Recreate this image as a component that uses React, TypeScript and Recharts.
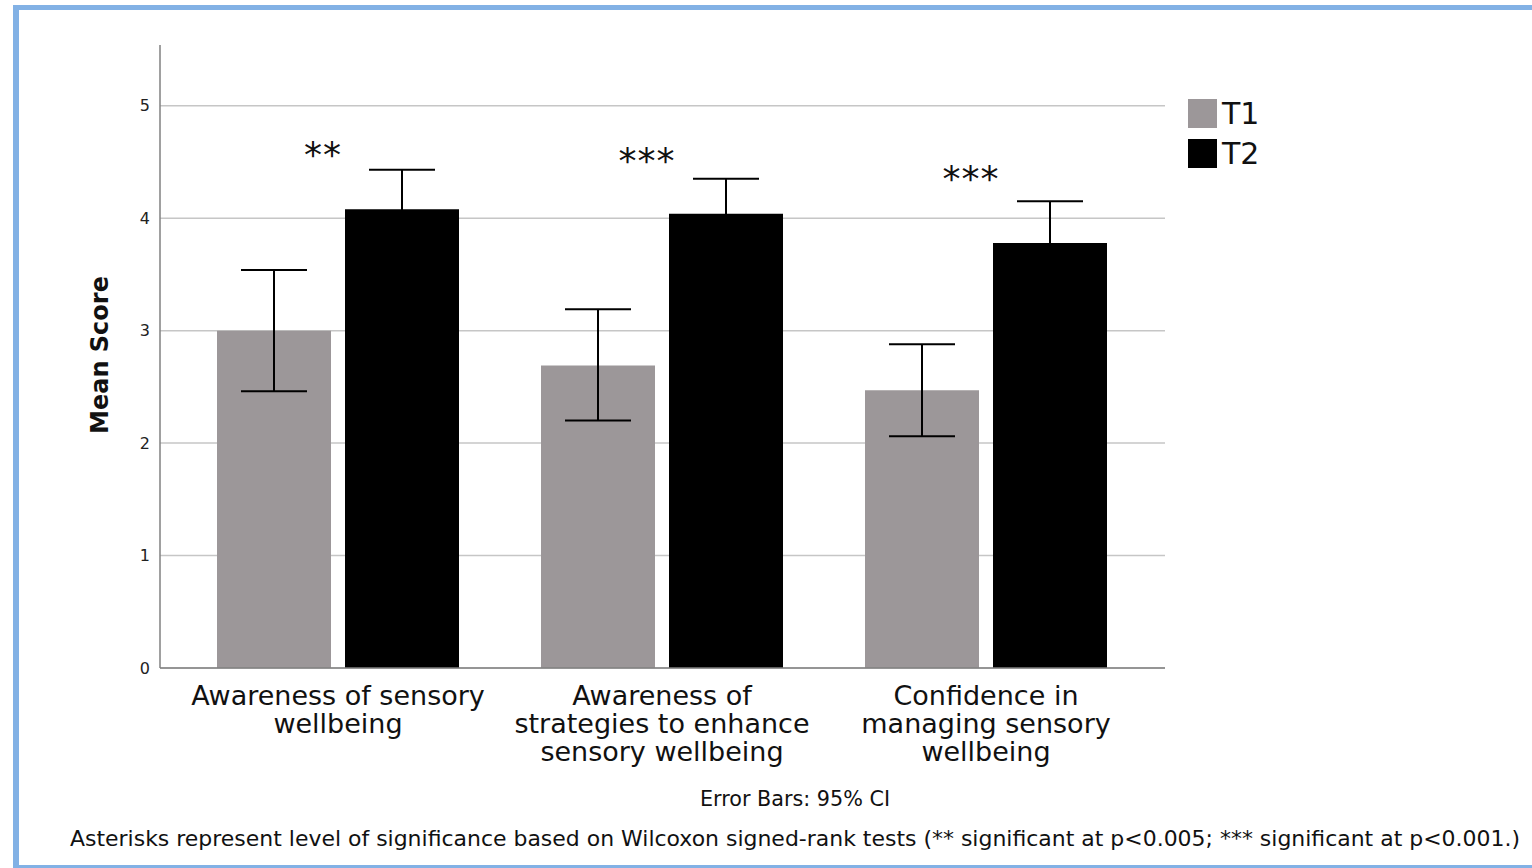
import { ComposedChart, Bar, XAxis, YAxis, CartesianGrid, ErrorBar, Legend, ReferenceDot } from 'recharts'

const categories = [
  'Awareness of sensory\nwellbeing',
  'Awareness of\nstrategies to enhance\nsensory wellbeing',
  'Confidence in\nmanaging sensory\nwellbeing',
]
const t1Mean = [3.0, 2.69, 2.47]
const t1Low = [2.46, 2.2, 2.06]
const t1High = [3.54, 3.19, 2.88]
const t2Mean = [4.08, 4.04, 3.78]
const t2Low = [3.73, 3.73, 3.41]
const t2High = [4.43, 4.35, 4.15]
const significance = ['**', '***', '***']
const sigY = [4.62, 4.57, 4.41]
const yTicks = [0, 1, 2, 3, 4, 5]

const data = categories.map((name, i) => ({
  name,
  T1: t1Mean[i],
  T2: t2Mean[i],
  t1Err: [+(t1Mean[i] - t1Low[i]).toFixed(3), +(t1High[i] - t1Mean[i]).toFixed(3)],
  t2Err: [+(t2Mean[i] - t2Low[i]).toFixed(3), +(t2High[i] - t2Mean[i]).toFixed(3)],
}))

const FONT = '"DejaVu Sans", sans-serif'
const T1_COLOR = '#9c9799'
const T2_COLOR = '#000000'

const CategoryTick = ({ x, y, payload }: any) => {
  const lines = String(payload.value).split('\n')
  return (
    <text x={x} y={y} textAnchor="middle" fontFamily={FONT} fontSize={27} fill="#111">
      {lines.map((l, i) => <tspan key={i} x={x} y={y + 35 + i * 28}>{l}</tspan>)}
    </text>
  )
}

const LegendBox = ({ payload }: any) => (
  <div style={{ fontFamily: FONT }}>
    {(payload || []).map((p: any) => (
      <div key={p.value} style={{ display: 'flex', alignItems: 'center', height: 40 }}>
        <div style={{ width: 29, height: 29, background: p.color, marginRight: 5 }} />
        <span style={{ fontSize: 30, color: '#111' }}>{p.value}</span>
      </div>
    ))}
  </div>
)

export default function App() {
  return (
    <div style={{ position: 'fixed', left: 0, top: 0, width: 1532, height: 868, overflow: 'hidden', background: '#fff' }}>
      <div style={{ position: 'absolute', left: 13, top: 5, width: 1600, height: 855, borderLeft: '6px solid #82b1e5', borderTop: '5px solid #82b1e5', borderBottom: '3px solid #82b1e5' }} />
      <div style={{ position: 'absolute', left: 0, top: 0 }}>
        <ComposedChart width={1532} height={868} data={data} margin={{ top: 45, right: 247, bottom: 0, left: 100 }} barGap={14}>
          <CartesianGrid vertical={false} stroke="#c6c6c6" strokeWidth={1.5} syncWithTicks />
          <XAxis dataKey="name" height={200} padding={{ left: 16, right: 17 }} tick={<CategoryTick />} tickLine={false} tickSize={0} interval={0} stroke="#808080" strokeWidth={1.5} />
          <YAxis width={60} domain={[0, 5.54]} ticks={yTicks} tickLine={false} tickSize={0} tickMargin={10} stroke="#808080" strokeWidth={1.5}
            tick={{ fontFamily: FONT, fontSize: 16, fill: '#222' }} />
          <Legend layout="vertical" align="right" verticalAlign="top" content={<LegendBox />}
            wrapperStyle={{ position: 'absolute', left: 1188, top: 93, width: 120 }} />
          <Bar dataKey="T1" name="T1" fill={T1_COLOR} barSize={114} isAnimationActive={false}>
            <ErrorBar dataKey="t1Err" width={33} stroke="#000" strokeWidth={2} isAnimationActive={false} />
          </Bar>
          <Bar dataKey="T2" name="T2" fill={T2_COLOR} barSize={114} isAnimationActive={false}>
            <ErrorBar dataKey="t2Err" width={33} stroke="#000" strokeWidth={2} isAnimationActive={false} />
          </Bar>
          {categories.map((c, i) => (
            <ReferenceDot key={c} x={c} y={sigY[i]} r={0} ifOverflow="visible"
              shape={(p: any) => (
                <text x={p.cx - 15} y={p.cy + 19} textAnchor="middle" fontFamily={FONT} fontSize={36} letterSpacing={1} fill="#111">{significance[i]}</text>
              )} />
          ))}
        </ComposedChart>
      </div>
      <svg width={1532} height={868} style={{ position: 'absolute', left: 0, top: 0, pointerEvents: 'none' }}>
        <text x={100} y={355} transform="rotate(-90 100 355)" textAnchor="middle" dominantBaseline="central" fontFamily={FONT} fontWeight="bold" fontSize={24} fill="#111">Mean Score</text>
        <text x={700} y={806} textLength={190} lengthAdjust="spacingAndGlyphs" fontFamily={FONT} fontSize={22} fill="#111">Error Bars: 95% CI</text>
        <text x={70} y={846} textLength={1450} lengthAdjust="spacingAndGlyphs" fontFamily={FONT} fontSize={22} fill="#111">Asterisks represent level of significance based on Wilcoxon signed-rank tests (** significant at p&lt;0.005; *** significant at p&lt;0.001.)</text>
      </svg>
    </div>
  )
}
